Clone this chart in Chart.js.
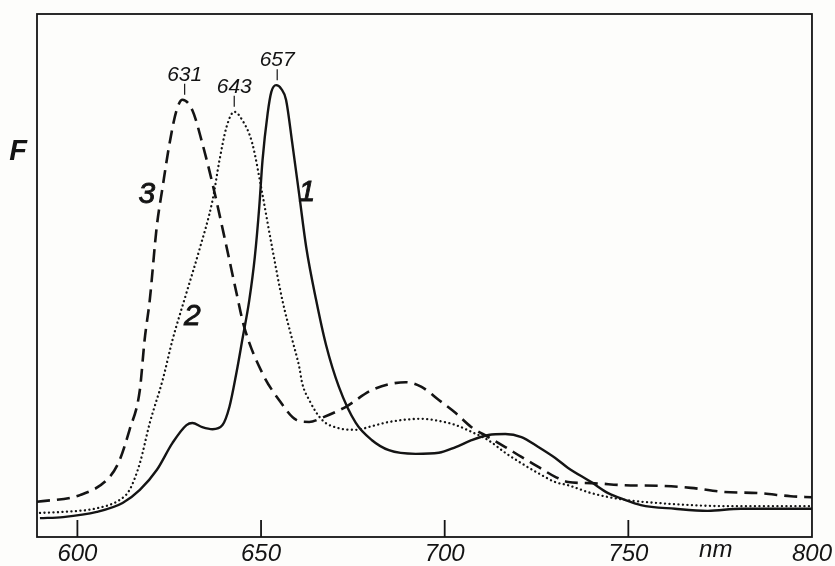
<!DOCTYPE html>
<html>
<head>
<meta charset="utf-8">
<script src="https://cdn.jsdelivr.net/npm/chart.js@4/dist/chart.umd.min.js"></script>
<style>
html,body{margin:0;padding:0;background:#fdfdfb;}
#wrap{width:835px;height:566px;}
</style>
</head>
<body>
<div id="wrap"><canvas id="c" width="835" height="566"></canvas></div>
<script>
// Wavelength (nm) and fluorescence intensity F (arbitrary units, 0..100 = frame height)
const nm1 = [589.8,596.1,605.3,612.3,617.0,621.6,625.9,629.7,631.3,634.0,636.8,639.5,641.4,643.3,644.9,646.8,648.3,649.5,650.4,651.8,652.8,654.1,655.5,656.8,658.5,660.4,662.3,665.0,667.7,671.2,675.8,680.2,684.8,692.1,698.4,703.0,707.3,711.9,716.5,720.9,725.5,730.1,733.6,739.9,744.5,749.1,753.4,762.7,771.6,780.6,789.8,800];
const F1  = [3.6,3.8,4.8,6.5,9.0,12.8,18.0,21.4,21.8,21.0,20.6,21.4,24.9,31.4,37.7,45.3,53.5,63.0,72.0,81.0,85.1,86.4,85.7,83.6,75.3,65.4,55.4,45.3,36.7,28.7,21.8,18.5,16.6,15.9,16.1,17.2,18.5,19.5,19.7,19.1,17.2,15.1,13.2,10.5,8.4,7.1,6.1,5.4,5.0,5.4,5.4,5.4];

const nm2 = [589.8,596.1,605.3,611.5,614.2,617.0,619.7,623.2,625.9,629.7,633.2,636.8,638.7,640.6,642.7,644.9,647.6,650.3,653.0,655.8,658.5,660.4,661.2,663.1,666.6,671.2,675.8,680.2,684.8,693.7,698.4,703.0,707.3,711.9,716.5,720.9,725.5,730.1,733.6,739.9,749.1,758.1,767.0,776.2,785.2,800];
const F2  = [4.6,4.8,5.5,7.1,9.0,14.1,21.8,30.0,37.7,46.7,54.9,64.4,72.1,78.4,81.3,79.7,75.3,65.8,55.4,45.3,37.7,32.5,29.4,26.2,22.4,20.8,20.5,21.2,22.0,22.6,22.2,21.4,20.1,18.5,16.1,14.1,12.2,10.5,9.9,8.4,7.1,6.5,6.1,5.9,5.9,5.9];

const nm3 = [589,600.7,608.8,611.5,614.2,617.0,618.3,619.7,621.6,623.2,625.1,627.0,628.6,631.3,634.0,636.8,640.6,643.3,645.4,650.3,654.9,659.6,663.1,666.6,673.1,680.2,689.4,693.7,698.4,703.0,707.3,711.9,716.5,720.9,725.5,730.1,733.6,739.9,749.1,758.1,767.0,776.2,785.2,794.2,800];
const F3  = [6.75,8.0,11.5,14.7,20.5,28.1,37.7,45.3,59.3,66.9,75.3,81.6,83.6,81.6,75.3,67.5,55.5,46.7,40.2,31.4,26.2,22.4,22.0,22.8,24.9,28.1,29.6,28.7,26.2,23.7,21.0,19.1,17.2,15.3,13.4,11.5,10.5,10.3,9.9,9.8,9.4,8.6,8.4,7.8,7.6];

const xTicks = [600,650,700,750,800];
const peakLabels = ['631','643','657'];
const peakNm = [629.2,642.7,654.4];
const peakF  = [83.6,81.3,86.4];
const curveLabels = ['1','2','3'];
const curveLabelNm = [662.5,631.3,618.9];
const curveLabelF  = [65.8,42.1,65.4];

const INK = '#141414';
const zip = (a,b)=>a.map((v,i)=>({x:v,y:b[i]}));

const decor = {
  id:'decor',
  afterDraw(chart){
    const {ctx, chartArea:a, scales:{x, y}} = chart;
    ctx.save();
    ctx.strokeStyle = INK; ctx.fillStyle = INK;
    // frame
    ctx.lineWidth = 1.8;
    ctx.strokeRect(a.left, a.top, a.right-a.left, a.bottom-a.top);
    // inward tick marks
    xTicks.forEach(v=>{
      if(v>=x.max) return;
      const px = x.getPixelForValue(v);
      ctx.beginPath(); ctx.moveTo(px, a.bottom); ctx.lineTo(px, a.bottom-17); ctx.stroke();
    });
    // nm unit
    ctx.font = 'italic 24px "Liberation Sans", Arial, sans-serif';
    ctx.textAlign='center'; ctx.textBaseline='middle';
    ctx.fillText('nm', x.getPixelForValue(773.8), a.bottom+13);
    // F axis label
    ctx.font = 'bold italic 29px "Liberation Sans", Arial, sans-serif';
    ctx.fillText('F', a.left-19, y.getPixelForValue(73.6));
    // peak labels
    ctx.lineWidth = 1.2;
    ctx.font = 'italic 21px "Liberation Sans", Arial, sans-serif';
    ctx.textBaseline='alphabetic';
    peakLabels.forEach((t,i)=>{
      const px = x.getPixelForValue(peakNm[i]);
      const py = y.getPixelForValue(peakF[i]);
      ctx.beginPath(); ctx.moveTo(px, py-5); ctx.lineTo(px, py-16); ctx.stroke();
      ctx.fillText(t, px, py-19);
    });
    // curve labels
    ctx.font = 'italic 30px "Liberation Sans", Arial, sans-serif';
    ctx.textBaseline='middle';
    ctx.lineWidth = 0.9;
    curveLabels.forEach((t,i)=>{
      const px = x.getPixelForValue(curveLabelNm[i]), py = y.getPixelForValue(curveLabelF[i]);
      ctx.fillText(t, px, py);
      ctx.strokeText(t, px, py);
    });
    ctx.restore();
  }
};

new Chart(document.getElementById('c'), {
  type:'line',
  data:{
    datasets:[
      {label:'1', data:zip(nm1,F1), borderColor:INK, borderWidth:2.4, pointRadius:0, cubicInterpolationMode:'monotone', fill:false},
      {label:'2', data:zip(nm2,F2), borderColor:INK, borderWidth:2.3, borderDash:[0.1,4.4], borderCapStyle:'round', pointRadius:0, cubicInterpolationMode:'monotone', fill:false},
      {label:'3', data:zip(nm3,F3), borderColor:INK, borderWidth:2.6, borderDash:[13,7], pointRadius:0, cubicInterpolationMode:'monotone', fill:false}
    ]
  },
  options:{
    responsive:false, animation:false,
    layout:{padding:{left:37, top:14, right:20, bottom:0}},
    plugins:{legend:{display:false}, tooltip:{enabled:false}},
    scales:{
      x:{type:'linear', min:589, max:800,
         afterBuildTicks(s){ s.ticks = xTicks.map(v=>({value:v})); },
         afterFit(s){ s.height = 29; },
         grid:{display:false, drawTicks:false}, border:{display:false},
         ticks:{color:INK, padding:3, maxRotation:0, autoSkip:false,
                font:{family:'"Liberation Sans", Arial, sans-serif', size:24, style:'italic'}}},
      y:{display:false, min:0, max:100}
    }
  },
  plugins:[decor]
});
</script>
</body>
</html>
